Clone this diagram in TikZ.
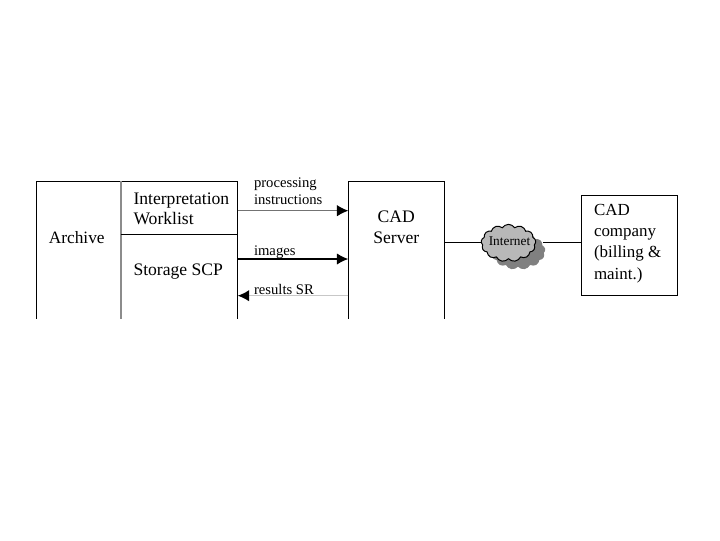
\documentclass[tikz,border=0pt]{standalone}
\usepackage{fontspec}
\setmainfont{Liberation Serif}
\usetikzlibrary{shapes.symbols, arrows.meta}
\def\boxtop{181}
\def\boxbottom{318.5}
\def\archiveleft{36.5}
\def\archivemid{120.7}
\def\archiveright{237.7}
\def\serverleft{348.3}
\def\serverright{444.3}
\tikzset{
    boxlabel/.style={inner sep=0pt, align=left, anchor=west, font=\fontsize{13.2}{15}\selectfont},
    arrowlabel/.style={inner sep=0pt, align=left, anchor=west, font=\fontsize{11}{13}\selectfont},
    flow/.style={line width=0.8pt, -{Latex[black, length=8.5pt, width=8.5pt]}},
    cloudshape/.style={cloud, cloud puffs=13, cloud puff arc=115, aspect=1.5, inner sep=0pt, minimum width=41pt, minimum height=28pt},
}
\begin{document}
\begin{tikzpicture}[x=0.75pt, y=-0.75pt, line width=0.75pt]
    \useasboundingbox (0, 0) rectangle (720, 540);
    % Ends of the three flows on the box sides.
    \coordinate (wl) at (\archiveright, 210.7);
    \coordinate (wlend) at (\serverleft, 210.7);
    \coordinate (img) at (\archiveright, 259);
    \coordinate (imgend) at (\serverleft, 259);
    \coordinate (sr) at (\serverleft, 295.7);
    \coordinate (srend) at (\archiveright, 295.7);

    % Archive box, open at the bottom.
    \draw (\archiveleft, \boxbottom) -- (\archiveleft, \boxtop) -- (\archiveright, \boxtop) -- (\archiveright, \boxbottom);
    \draw[black!45, line width=1.2pt] (\archivemid, \boxtop) -- (\archivemid, \boxbottom);
    \draw (\archivemid, 234.3) -- (\archiveright, 234.3);
    % CAD server box, open at the bottom.
    \draw (\serverleft, \boxbottom) -- (\serverleft, \boxtop) -- (\serverright, \boxtop) -- (\serverright, \boxbottom);
    \coordinate (srv) at (\serverright, 242.3);
    % CAD company box.
    \node[draw, minimum width=71.5pt, minimum height=75.2pt, inner sep=0pt] (company) at (629.4, 245.8) {};

    % Flows.
    \draw[flow, black!55] (wl) -- (wlend);
    \draw[flow, line width=1.1pt] (img) -- (imgend);
    \draw[flow, black!22, line width=1pt] (sr) -- (srend);

    % Internet cloud with its shadow.
    \node[cloudshape, fill=black!50] (shadow) at (518, 251) {};
    \node[cloudshape, draw, fill=black!28] (internet) at (508.5, 243) {};
    \node[inner sep=0pt, font=\fontsize{10}{12}\selectfont] (inetlabel) at (509.5, 241) {Internet};
    \coordinate (inetleft) at (481, 242.3);
    \coordinate (inetright) at (543, 242.3);
    \draw (srv) -- (inetleft);
    \draw (inetright) -- (company.west |- inetright);

    % Box labels.
    \node[boxlabel, font=\fontsize{13}{15}\selectfont] (archive) at (48.3, 238) {Archive};
    \node[boxlabel] (worklist) at (133, 208.5) {Interpretation\\Worklist};
    \node[boxlabel] (storage) at (133, 271.5) {Storage SCP};
    \node[boxlabel, align=center, anchor=center, font=\fontsize{13.2}{15.7}\selectfont] (server) at (396.3, 227.5) {CAD\\Server};
    \node[boxlabel, font=\fontsize{12.7}{16}\selectfont] (companytext) at (593.5, 243.5) {CAD\\company\\(billing \&\\maint.)};

    % Flow labels.
    \node[arrowlabel] (proclabel) at (253.5, 191) {processing\\instructions};
    \node[arrowlabel] (imglabel) at (253.5, 252) {images};
    \node[arrowlabel] (srlabel) at (253.5, 289) {results SR};
\end{tikzpicture}
\end{document}
